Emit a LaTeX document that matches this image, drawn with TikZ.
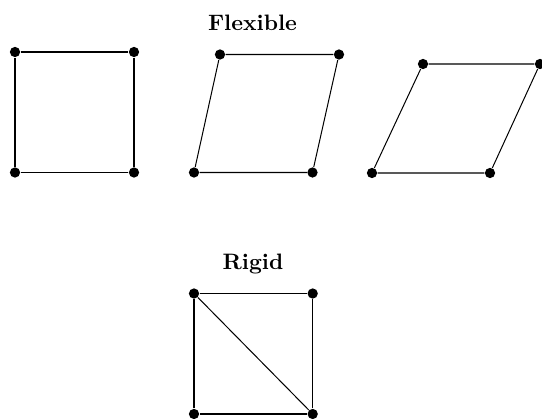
\documentclass[tikz,border=0pt]{standalone}
\begin{document}
\begin{tikzpicture}[x=0.448pt,y=-0.448pt,
  dot/.style={circle,fill=black,inner sep=0pt,minimum size=4.6pt},
  edge/.style={line width=0.45pt},
  title/.style={font=\bfseries,anchor=base,inner sep=0pt}]
\useasboundingbox (0,0) rectangle (542,419);
% titles
\node[title] (flex) at (252.5,30) {Flexible};
\node[title] (rigid) at (253,269) {Rigid};
% square
\node[dot] (a1) at (15,52) {};
\node[dot] (a2) at (134,52) {};
\node[dot] (a3) at (134,172.5) {};
\node[dot] (a4) at (15,172.5) {};
\draw[edge] (a1) -- (a2) -- (a3) -- (a4) -- (a1);
% parallelogram 1
\node[dot] (b1) at (220,54.5) {};
\node[dot] (b2) at (339,54.5) {};
\node[dot] (b3) at (312.5,172.5) {};
\node[dot] (b4) at (194,172.5) {};
\draw[edge] (b1) -- (b2) -- (b3) -- (b4) -- (b1);
% parallelogram 2
\node[dot] (c1) at (423,64) {};
\node[dot] (c2) at (540,64) {};
\node[dot] (c3) at (490,173) {};
\node[dot] (c4) at (372,173) {};
\draw[edge] (c1) -- (c2) -- (c3) -- (c4) -- (c1);
% rigid square
\node[dot] (d1) at (194,293.5) {};
\node[dot] (d2) at (312.7,293.5) {};
\node[dot] (d3) at (312.7,414) {};
\node[dot] (d4) at (194,414) {};
\draw[edge] (d1) -- (d2) -- (d3) -- (d4) -- (d1);
\draw[edge] (d1) -- (d3);
\end{tikzpicture}
\end{document}
